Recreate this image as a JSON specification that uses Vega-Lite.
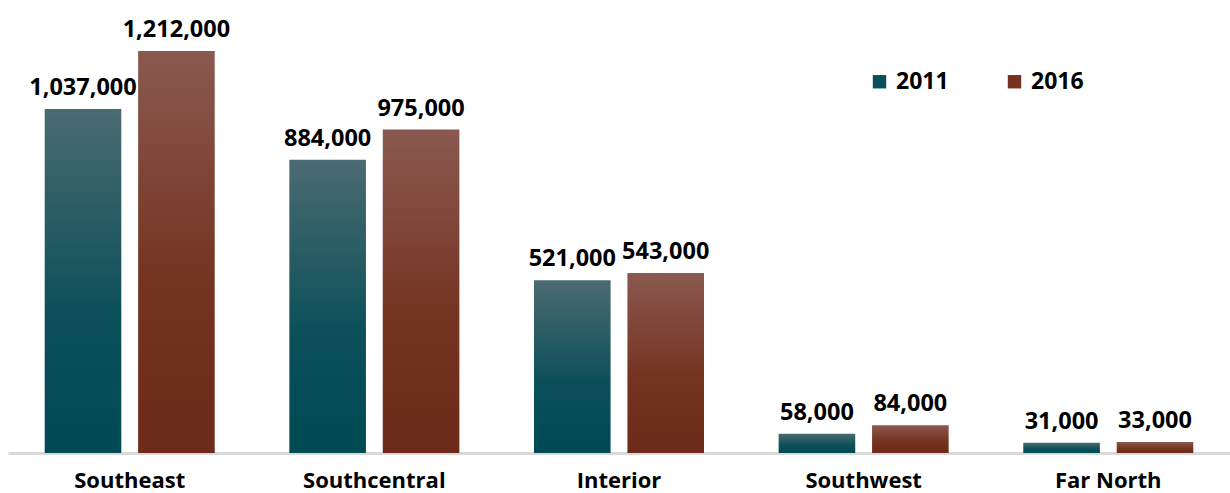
{
  "$schema": "https://vega.github.io/schema/vega-lite/v6.json",
  "width": 1222,
  "height": 453,
  "autosize": {"type": "none"},
  "padding": {"left": 8, "top": 0, "right": 0, "bottom": 40},
  "background": "white",
  "config": {"view": {"stroke": null}, "font": "Open Sans"},
  "data": {"values": [
    {"region": "Southeast", "year": "2011", "value": 1037000},
    {"region": "Southeast", "year": "2016", "value": 1212000},
    {"region": "Southcentral", "year": "2011", "value": 884000},
    {"region": "Southcentral", "year": "2016", "value": 975000},
    {"region": "Interior", "year": "2011", "value": 521000},
    {"region": "Interior", "year": "2016", "value": 543000},
    {"region": "Southwest", "year": "2011", "value": 58000},
    {"region": "Southwest", "year": "2016", "value": 84000},
    {"region": "Far North", "year": "2011", "value": 31000},
    {"region": "Far North", "year": "2016", "value": 33000}
  ]},
  "encoding": {
    "x": {"field": "region", "type": "nominal", "sort": null,
      "scale": {"paddingInner": 0.305, "paddingOuter": 0.15},
      "axis": {"title": null, "labelAngle": 0, "ticks": false, "domainColor": "#d9d9d9", "domainWidth": 3,
        "labelFont": "Open Sans", "labelFontWeight": "bold", "labelFontSize": 22, "labelColor": "#000000", "labelPadding": 17}},
    "xOffset": {"field": "year", "type": "nominal", "scale": {"paddingInner": 0.18, "paddingOuter": 0}},
    "y": {"field": "value", "type": "quantitative", "scale": {"domain": [0, 1365800]}, "axis": null}
  },
  "layer": [
    {
      "mark": {"type": "bar"},
      "encoding": {
        "color": {
          "condition": {"test": "datum.year === '2011'", "value":
            {"gradient": "linear", "x1": 0, "y1": 0, "x2": 0, "y2": 1, "stops": [
              {"offset": 0, "color": "#4a6b71"}, {"offset": 0.6, "color": "#0b4f59"}, {"offset": 1, "color": "#004a55"}]}},
          "value":
            {"gradient": "linear", "x1": 0, "y1": 0, "x2": 0, "y2": 1, "stops": [
              {"offset": 0, "color": "#8a5950"}, {"offset": 0.6, "color": "#74321f"}, {"offset": 1, "color": "#6e2a1a"}]}
        }
      }
    },
    {
      "mark": {"type": "point", "shape": "square", "filled": true, "opacity": 0},
      "encoding": {
        "color": {"field": "year", "type": "nominal",
          "scale": {"domain": ["2011", "2016"], "range": ["#0b4f59", "#74321f"]},
          "legend": {"title": null, "orient": "none", "legendX": 860, "legendY": 70, "direction": "horizontal",
            "symbolType": "square", "symbolSize": 180, "symbolOpacity": 1, "labelFontSize": 23, "labelFontWeight": "bold", "labelFont": "Open Sans",
            "labelColor": "#000000", "columnPadding": 54, "labelOffset": 5}
        }
      }
    },
    {
      "mark": {"type": "text", "baseline": "alphabetic", "dy": -14, "font": "Open Sans", "fontWeight": "bold", "fontSize": 23.5, "color": "#000000"},
      "encoding": {"text": {"field": "value", "type": "quantitative", "format": ",d"}}
    }
  ]
}
